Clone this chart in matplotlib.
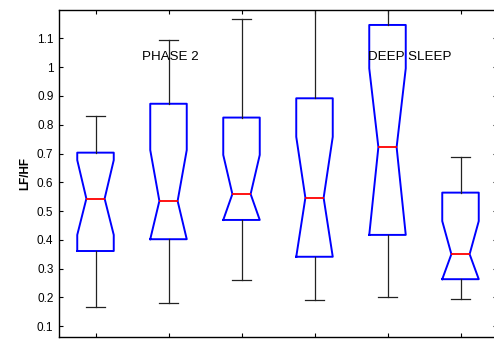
import numpy as np
from matplotlib import pyplot as plt

plt.rcParams['font.family'] = ['Liberation Sans', 'DejaVu Sans']

# box statistics (LF/HF)
positions = [1, 2, 3, 4, 5, 6]
med    = [0.543, 0.535, 0.559, 0.546, 0.722, 0.350]
q1     = [0.361, 0.402, 0.469, 0.341, 0.417, 0.263]
q3     = [0.703, 0.873, 0.825, 0.892, 1.147, 0.564]
whislo = [0.165, 0.181, 0.261, 0.190, 0.202, 0.193]
whishi = [0.829, 1.096, 1.168, 1.300, 1.300, 0.687]
cilo   = [0.417, 0.402, 0.469, 0.341, 0.417, 0.263]
cihi   = [0.677, 0.712, 0.695, 0.758, 0.996, 0.465]

stats = []
for i in range(len(positions)):
    stats.append(dict(med=med[i], q1=q1[i], q3=q3[i], whislo=whislo[i],
                      whishi=whishi[i], cilo=cilo[i], cihi=cihi[i], fliers=[]))

fig = plt.figure(figsize=(4.94, 3.44), dpi=100)
ax = fig.add_axes([59/494, 7/344, 438/494, 327/344])

ax.bxp(stats, positions=positions, widths=0.5, shownotches=True,
       showfliers=False,
       boxprops=dict(color='#0000ff', linewidth=1.4),
       medianprops=dict(color='#ff0000', linewidth=1.3),
       whiskerprops=dict(color='#222222', linewidth=0.9),
       capprops=dict(color='#222222', linewidth=0.9))

ax.set_xlim(0.5, 6.5)
ax.set_ylim(0.062, 1.199)
ax.set_yticks(np.arange(0.1, 1.15, 0.1))
ax.set_yticklabels(['0.1', '0.2', '0.3', '0.4', '0.5', '0.6', '0.7', '0.8', '0.9', '1', '1.1'])
ax.set_xticks(positions)
ax.set_xticklabels([])
ax.tick_params(direction='in', top=True, right=True, labelsize=8.5, length=3, pad=4)
for s in ax.spines.values():
    s.set_linewidth(1.0)

ax.set_ylabel('LF/HF', fontsize=8.5, fontweight='bold', labelpad=4)

ax.text(2.02, 1.037, 'PHASE 2', ha='center', va='center', fontsize=9.6)
ax.text(5.31, 1.037, 'DEEP SLEEP', ha='center', va='center', fontsize=9.6)

fig.savefig('out.png', dpi=100)
